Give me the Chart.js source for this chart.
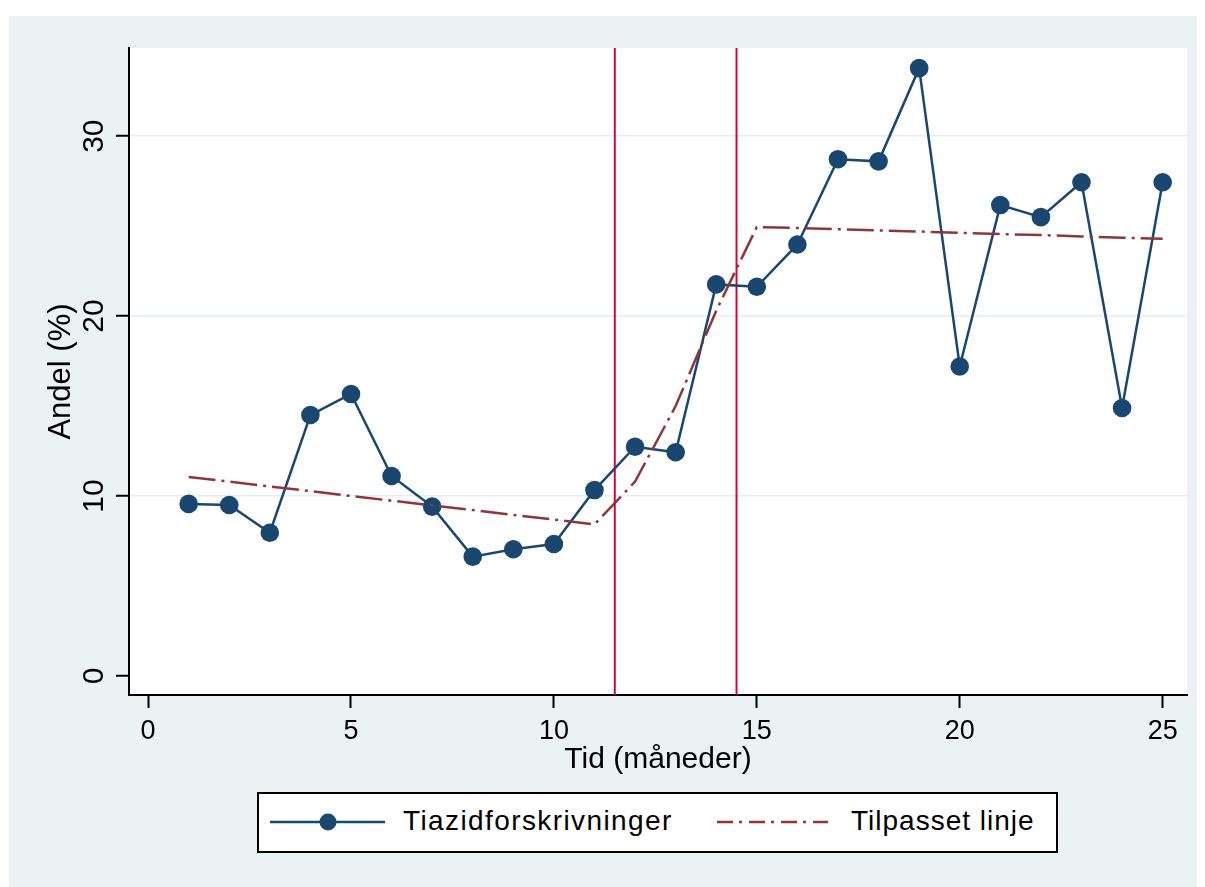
<!DOCTYPE html>
<html>
<head>
<meta charset="utf-8">
<script src="https://cdn.jsdelivr.net/npm/chart.js@4.4.1/dist/chart.umd.min.js"></script>
<style>
html,body{margin:0;padding:0;background:#fff;}
#wrap{position:relative;width:1205px;height:887px;overflow:hidden;}
#c{position:absolute;left:0;top:0;}
#legend{position:absolute;left:0;top:0;pointer-events:none;}
</style>
</head>
<body>
<div id="wrap">
<canvas id="c" width="1205" height="887"></canvas>
<svg id="legend" width="1205" height="887" xmlns="http://www.w3.org/2000/svg"></svg>
</div>
<script>
// ---- data ----
const months = [1,2,3,4,5,6,7,8,9,10,11,12,13,14,15,16,17,18,19,20,21,22,23,24,25];
const share = [9.56, 9.5, 7.96, 14.5, 15.67, 11.11, 9.41, 6.63, 7.04, 7.33, 10.33, 12.74, 12.43, 21.76, 21.63, 23.98, 28.72, 28.6, 33.78, 17.2, 26.17, 25.5, 27.44, 14.89, 27.44];
const fitted = [11.06, 10.8, 10.53, 10.27, 10.0, 9.74, 9.48, 9.22, 8.95, 8.69, 8.42, 10.8, 15.0, 20.3, 24.95, 24.9, 24.83, 24.76, 24.7, 24.63, 24.56, 24.5, 24.43, 24.36, 24.3];
const interventions = [11.5, 14.5];
const xTicks = [0, 5, 10, 15, 20, 25];
const yTicks = [0, 10, 20, 30];
const seriesLabels = ['Tiazidforskrivninger', 'Tilpasset linje'];
const xTitle = 'Tid (måneder)';
const yTitle = 'Andel (%)';
const xRange = [-0.47, 25.6];
const yRange = [-1.06, 34.9];

// ---- styles ----
const FONT = "'Liberation Sans', Arial, sans-serif";
const NAVY = '#1a476f', MAROON = '#90353b', RED = '#cc0a35', BG = '#eaf2f3', GRID = '#e3eef0';

const pts = ys => months.map((m, i) => ({x: m, y: ys[i]}));

const datasets = [
  {label: seriesLabels[1], data: pts(fitted), borderColor: MAROON, borderWidth: 2.5,
   borderDash: [27, 6, 3, 6], pointRadius: 0, tension: 0, order: 0, fill: false},
  {label: seriesLabels[0], data: pts(share), borderColor: NAVY, backgroundColor: NAVY,
   borderWidth: 2.5, pointRadius: 9.3, pointHoverRadius: 9.3, pointBackgroundColor: NAVY,
   pointBorderWidth: 0, tension: 0, order: 1, fill: false}
].concat(interventions.map(v => ({
  label: 'intervention', data: [{x: v, y: yRange[0]}, {x: v, y: yRange[1]}],
  borderColor: RED, borderWidth: 2, pointRadius: 0, order: 2, fill: false
})));

const bgPlugin = {
  id: 'bg',
  beforeDraw(chart) {
    const {ctx, chartArea: a} = chart;
    ctx.save();
    ctx.fillStyle = '#fff';
    ctx.fillRect(0, 0, chart.width, chart.height);
    ctx.fillStyle = BG;
    ctx.fillRect(9, 16, 1188, 871);
    ctx.fillStyle = '#fff';
    ctx.fillRect(a.left, a.top, a.right - a.left, a.bottom - a.top);
    ctx.restore();
  }
};

const chart = new Chart(document.getElementById('c'), {
  type: 'line',
  data: {datasets},
  plugins: [bgPlugin],
  options: {
    responsive: false,
    devicePixelRatio: 1,
    animation: false,
    layout: {padding: {top: 48, right: 18, bottom: 0, left: 0}},
    plugins: {legend: {display: false}, tooltip: {enabled: false}},
    scales: {
      x: {
        type: 'linear', min: xRange[0], max: xRange[1],
        afterBuildTicks: s => { s.ticks = xTicks.map(v => ({value: v})); },
        afterFit: s => { s.height = 192; },
        ticks: {font: {family: FONT, size: 27}, color: '#000', padding: 7, maxRotation: 0,
                autoSkip: false, callback: v => String(v)},
        grid: {drawOnChartArea: false, drawTicks: true, tickLength: 13, tickColor: '#000', tickWidth: 2},
        border: {display: true, color: '#000', width: 2},
        title: {display: true, text: xTitle, font: {family: FONT, size: 30}, color: '#000',
                padding: {top: 0, bottom: 109}}
      },
      y: {
        type: 'linear', min: yRange[0], max: yRange[1],
        afterBuildTicks: s => { s.ticks = yTicks.map(v => ({value: v})); },
        afterFit: s => { s.width = 129; },
        ticks: {font: {family: FONT, size: 30}, color: '#000', padding: 5, minRotation: 90,
                maxRotation: 90, crossAlign: 'center', autoSkip: false, callback: v => String(v)},
        grid: {color: c => (c.tick && c.tick.value === 0) ? 'rgba(0,0,0,0)' : GRID,
               lineWidth: 1.5, drawTicks: true, tickLength: 13, tickColor: '#000', tickWidth: 2},
        border: {display: true, color: '#000', width: 2},
        title: {display: true, text: yTitle, font: {family: FONT, size: 31}, color: '#000',
                padding: {top: 43, bottom: 0}}
      }
    }
  }
});

// ---- legend (built from the dataset labels and styles) ----
(function buildLegend() {
  const svg = document.getElementById('legend');
  const NS = 'http://www.w3.org/2000/svg';
  const el = (tag, attrs, text) => {
    const e = document.createElementNS(NS, tag);
    for (const k in attrs) e.setAttribute(k, attrs[k]);
    if (text) e.textContent = text;
    svg.appendChild(e);
    return e;
  };
  const dsMain = datasets[1], dsFit = datasets[0];
  el('rect', {x: 258, y: 793, width: 799, height: 59, fill: '#fff', stroke: '#000', 'stroke-width': 2});
  el('line', {x1: 270, y1: 822, x2: 385, y2: 822, stroke: dsMain.borderColor, 'stroke-width': 2.5});
  el('circle', {cx: 328, cy: 822, r: 8.5, fill: dsMain.pointBackgroundColor});
  el('text', {x: 403, y: 830, 'font-family': FONT, 'font-size': 28, fill: '#000', 'letter-spacing': 1.4}, dsMain.label);
  el('line', {x1: 717, y1: 822, x2: 828, y2: 822, stroke: dsFit.borderColor, 'stroke-width': 2.5,
              'stroke-dasharray': '16 6 3 7'});
  el('text', {x: 851, y: 830, 'font-family': FONT, 'font-size': 28, fill: '#000', 'letter-spacing': 1.0}, dsFit.label);
})();
</script>
</body>
</html>
